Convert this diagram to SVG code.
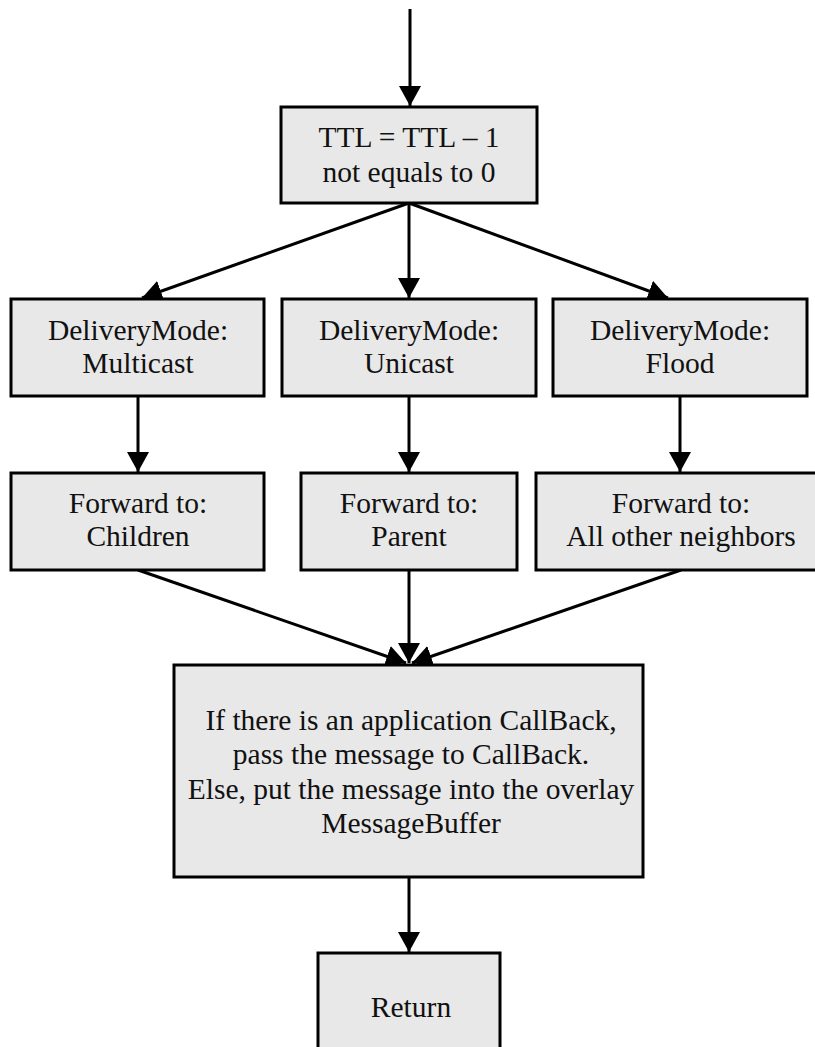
<svg xmlns="http://www.w3.org/2000/svg" width="815" height="1047" viewBox="0 0 815 1047">
  <style>
    .box { fill: #e8e8e8; stroke: #000; stroke-width: 3; }
    .lbl { font-family: "Liberation Serif", "Times New Roman", serif; font-size: 29.5px; fill: #111; text-anchor: middle; }
    .edge { stroke: #000; stroke-width: 3; fill: none; marker-end: url(#arrow); }
  </style>
  <defs>
    <marker id="arrow" viewBox="0 0 20 22" refX="20" refY="11" markerWidth="20" markerHeight="22" markerUnits="userSpaceOnUse" orient="auto">
      <path d="M0,0 L20,11 L0,22 Z" fill="#000"/>
    </marker>
  </defs>

  <rect width="815" height="1047" fill="#fff"/>

  <!-- connectors -->
  <g id="connectors">
    <line class="edge" x1="410" y1="9" x2="410" y2="106"/>
    <line class="edge" x1="409" y1="203" x2="142" y2="298"/>
    <line class="edge" x1="409" y1="203" x2="409" y2="298"/>
    <line class="edge" x1="409" y1="203" x2="668" y2="298"/>
    <line class="edge" x1="138" y1="396" x2="138" y2="472"/>
    <line class="edge" x1="409" y1="396" x2="409" y2="472"/>
    <line class="edge" x1="680" y1="396" x2="680" y2="472"/>
    <line class="edge" x1="138" y1="570" x2="406" y2="663"/>
    <line class="edge" x1="409" y1="570" x2="409" y2="663"/>
    <line class="edge" x1="681" y1="570" x2="412" y2="663"/>
    <line class="edge" x1="409" y1="877" x2="409" y2="952"/>
  </g>

  <!-- nodes -->
  <g id="ttl">
    <rect class="box" x="281" y="107" width="256" height="96"/>
    <text class="lbl" x="409" y="147">TTL = TTL – 1</text>
    <text class="lbl" x="409" y="182">not equals to 0</text>
  </g>

  <g id="mode-multicast">
    <rect class="box" x="11" y="299" width="253" height="97"/>
    <text class="lbl" x="138" y="340">DeliveryMode:</text>
    <text class="lbl" x="138" y="373">Multicast</text>
  </g>

  <g id="mode-unicast">
    <rect class="box" x="282" y="299" width="254" height="97"/>
    <text class="lbl" x="409" y="340">DeliveryMode:</text>
    <text class="lbl" x="409" y="373">Unicast</text>
  </g>

  <g id="mode-flood">
    <rect class="box" x="553" y="299" width="254" height="97"/>
    <text class="lbl" x="680" y="340">DeliveryMode:</text>
    <text class="lbl" x="680" y="373">Flood</text>
  </g>

  <g id="fwd-children">
    <rect class="box" x="11" y="473" width="253" height="97"/>
    <text class="lbl" x="138" y="513">Forward to:</text>
    <text class="lbl" x="138" y="546">Children</text>
  </g>

  <g id="fwd-parent">
    <rect class="box" x="301" y="473" width="216" height="97"/>
    <text class="lbl" x="409" y="513">Forward to:</text>
    <text class="lbl" x="409" y="546">Parent</text>
  </g>

  <g id="fwd-neighbors">
    <rect class="box" x="536" y="473" width="290" height="97"/>
    <text class="lbl" x="681" y="513">Forward to:</text>
    <text class="lbl" x="681" y="546">All other neighbors</text>
  </g>

  <g id="deliver">
    <rect class="box" x="174" y="665" width="469" height="212"/>
    <text class="lbl" x="411" y="730">If there is an application CallBack,</text>
    <text class="lbl" x="411" y="764">pass the message to CallBack.</text>
    <text class="lbl" x="411" y="799">Else, put the message into the overlay</text>
    <text class="lbl" x="411" y="833">MessageBuffer</text>
  </g>

  <g id="return">
    <rect class="box" x="318" y="953" width="182" height="110"/>
    <text class="lbl" x="411" y="1017">Return</text>
  </g>
</svg>
